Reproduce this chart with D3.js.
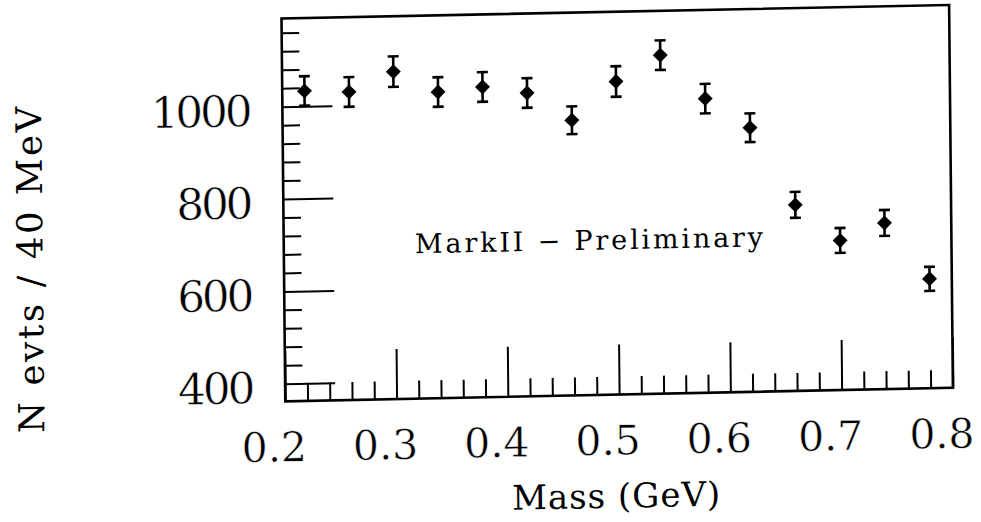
<!DOCTYPE html>
<html>
<head>
<meta charset="utf-8">
<script src="https://cdn.jsdelivr.net/npm/d3@7"></script>
<style>
  html, body { margin: 0; padding: 0; background: #fff; }
  svg { display: block; }
  text { font-family: "DejaVu Serif", serif; fill: #000; }
  .thin { stroke: #fff; stroke-width: 0.5px; paint-order: normal; }
</style>
</head>
<body>
<svg id="chart" width="981" height="522"></svg>
<script>
// ---- data ----
const masses = [0.22, 0.26, 0.30, 0.34, 0.38, 0.42, 0.46, 0.50, 0.54, 0.58, 0.62, 0.66, 0.70, 0.74, 0.78];
const counts = [1033, 1029, 1071, 1025, 1034, 1019, 958, 1040, 1095, 999, 934, 765, 686, 722, 599];
const errors = [32, 32, 33, 32, 32, 32, 30, 33, 32, 32, 31, 28, 27, 28, 26];

const xMajorTicks = [0.2, 0.3, 0.4, 0.5, 0.6, 0.7, 0.8];
const xMinorTicks = [0.22, 0.24, 0.26, 0.28, 0.32, 0.34, 0.36, 0.38, 0.42, 0.44, 0.46, 0.48,
                     0.52, 0.54, 0.56, 0.58, 0.62, 0.64, 0.66, 0.68, 0.72, 0.74, 0.76, 0.78];
const yMajorTicks = [400, 600, 800, 1000];
const yMinorTicks = [440, 480, 520, 560, 640, 680, 720, 760, 840, 880, 920, 960, 1040, 1080, 1120, 1160];
const xDomain = [0.2, 0.8];
const yDomain = [362, 1191];

const xTitle = "Mass (GeV)";
const yTitle = "N evts / 40 MeV";
const note = "MarkII \u2212 Preliminary";

// ---- layout (scanned page is slightly skewed) ----
const W = 667.6, H = 382.8;
const svg = d3.select("#chart");
const g = svg.append("g")
  .attr("transform", "matrix(1,-0.02022,0.00993,1,281.5,18.5)");

const x = d3.scaleLinear().domain(xDomain).range([0, W]);
const y = d3.scaleLinear().domain(yDomain).range([H, 0]);

// frame
g.append("rect")
  .attr("x", 0).attr("y", 0).attr("width", W).attr("height", H)
  .attr("fill", "none").attr("stroke", "#000").attr("stroke-width", 2.6);

// x axis minor ticks
const xMinor = g.append("g").attr("transform", `translate(0,${H})`)
  .call(d3.axisBottom(x).tickValues(xMinorTicks).tickSize(-18).tickFormat(""));
// x axis major ticks + labels
const xMajor = g.append("g").attr("transform", `translate(0,${H})`)
  .call(d3.axisBottom(x).tickValues(xMajorTicks).tickSize(-50).tickFormat(d3.format(".1f")));
xMajor.selectAll("text")
  .attr("class", "thin")
  .attr("y", 60).attr("dy", 0).attr("dx", -12)
  .style("font-size", "41px");

// y axis minor ticks
const yMinor = g.append("g")
  .call(d3.axisLeft(y).tickValues(yMinorTicks).tickSize(-17.5).tickFormat(""));
// y axis major ticks + labels
const yMajor = g.append("g")
  .call(d3.axisLeft(y).tickValues(yMajorTicks).tickSize(-50).tickFormat(d3.format("d")));
yMajor.selectAll("text")
  .attr("class", "thin")
  .attr("x", -33).attr("dy", "0.42em")
  .style("font-size", "43.5px")
  .style("letter-spacing", "-3px");

[xMinor, xMajor, yMinor, yMajor].forEach(a => {
  a.select(".domain").remove();
  a.selectAll(".tick line").attr("stroke", "#000").attr("stroke-width", 2);
  a.attr("font-family", null).attr("font-size", null);
});

// error bars
const pts = masses.map((m, i) => ({ m, c: counts[i], e: errors[i] }));
const eb = g.append("g").attr("stroke", "#000").attr("stroke-width", 2.6);
eb.selectAll("line.v").data(pts).join("line").attr("class", "v")
  .attr("x1", d => x(d.m)).attr("x2", d => x(d.m))
  .attr("y1", d => y(d.c + d.e)).attr("y2", d => y(d.c - d.e));
eb.selectAll("line.t").data(pts).join("line").attr("class", "t")
  .attr("x1", d => x(d.m) - 5.5).attr("x2", d => x(d.m) + 5.5)
  .attr("y1", d => y(d.c + d.e)).attr("y2", d => y(d.c + d.e));
eb.selectAll("line.b").data(pts).join("line").attr("class", "b")
  .attr("x1", d => x(d.m) - 5.5).attr("x2", d => x(d.m) + 5.5)
  .attr("y1", d => y(d.c - d.e)).attr("y2", d => y(d.c - d.e));

// diamond markers
const diamond = d3.symbol().type(d3.symbolSquare).size(112);
g.append("g").selectAll("path").data(pts).join("path")
  .attr("d", diamond)
  .attr("transform", d => `translate(${x(d.m)},${y(d.c)}) rotate(45)`)
  .attr("fill", "#000");

// titles
g.append("text")
  .attr("x", 330.4).attr("y", 495.9)
  .attr("text-anchor", "middle")
  .style("font-size", "34px").style("letter-spacing", "1px")
  .text(xTitle);

g.append("text")
  .attr("transform", "translate(-241.3,244.9) rotate(-90)")
  .attr("text-anchor", "middle")
  .style("font-size", "35.5px").style("letter-spacing", "2.6px")
  .text(yTitle);

g.append("text")
  .attr("x", 131.2).attr("y", 237.5)
  .style("font-size", "27px")
  .attr("textLength", 348).attr("lengthAdjust", "spacing")
  .text(note);
</script>
</body>
</html>
